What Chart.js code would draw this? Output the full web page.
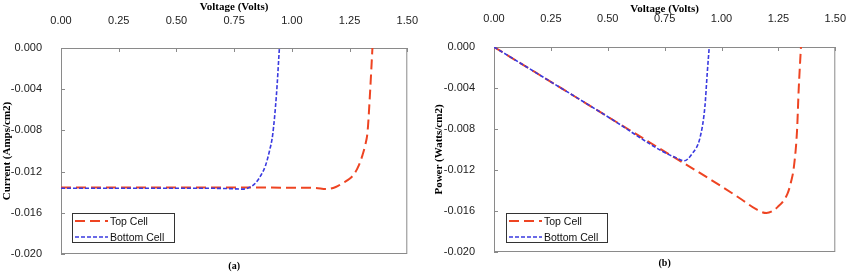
<!DOCTYPE html>
<html>
<head>
<meta charset="utf-8">
<script src="https://cdn.jsdelivr.net/npm/chart.js@4"></script>
<style>
  body { margin: 0; background: #fff; }
  #wrap { position: relative; width: 859px; height: 275px; }
  #ivChart { position: absolute; left: 0; top: 0; }
  #pvChart { position: absolute; left: 430px; top: 0; }
</style>
</head>
<body>
<div id="wrap">
  <canvas id="ivChart" width="430" height="275"></canvas>
  <canvas id="pvChart" width="429" height="275"></canvas>
</div>
<script>
// (a) current vs voltage
const topV = [0, 0.25, 0.5, 0.75, 1.0, 1.1, 1.15, 1.19, 1.221, 1.25, 1.271, 1.29, 1.306, 1.318, 1.328, 1.338, 1.349];
const topI = [-0.01355, -0.01355, -0.01355, -0.01355, -0.01356, -0.01358, -0.0137, -0.0135, -0.0131, -0.0127, -0.0122, -0.0114, -0.0104, -0.0094, -0.0081, -0.0046, 0];
const botV = [0, 0.25, 0.5, 0.65, 0.729, 0.786, 0.815, 0.843, 0.865, 0.886, 0.903, 0.917, 0.933, 0.946];
const botI = [-0.01362, -0.01362, -0.01362, -0.01362, -0.01365, -0.0137, -0.01355, -0.0131, -0.0124, -0.0114, -0.0100, -0.0084, -0.0046, 0];

// (b) power vs voltage
const topPV = [0, 0.25, 0.5, 0.75, 1.0, 1.09, 1.15, 1.197, 1.247, 1.29, 1.305, 1.318, 1.332, 1.339, 1.349];
const topP = [0, -0.0034, -0.0068, -0.0102, -0.0136, -0.0149, -0.0158, -0.0162, -0.0156, -0.0143, -0.0132, -0.0117, -0.0081, -0.0042, 0];
const botPV = [0, 0.25, 0.5, 0.75, 0.80, 0.835, 0.871, 0.906, 0.927, 0.937, 0.946];
const botP = [0, -0.0034, -0.0068, -0.0103, -0.0108, -0.0111, -0.0104, -0.0088, -0.0058, -0.0026, 0];

const seriesNames = ['Top Cell', 'Bottom Cell'];
const xTitle = 'Voltage (Volts)';

const RED = '#ee4422';
const BLUE = '#3a3ae0';
const sansFont = 'Liberation Sans, Arial, sans-serif';
const serifFont = 'Liberation Serif, Times New Roman, serif';

function pts(xs, ys) {
  return xs.map((x, i) => ({ x: x, y: ys[i] }));
}

// frame round the plot plus the small inside tick marks
const framePlugin = {
  id: 'frame',
  beforeDatasetsDraw(chart) {
    const { ctx, chartArea: a, scales } = chart;
    ctx.save();
    ctx.strokeStyle = '#8a8a8a';
    ctx.lineWidth = 1;
    ctx.strokeRect(a.left + 0.5, a.top + 0.5, a.right - a.left - 1, a.bottom - a.top - 1);
    ctx.beginPath();
    scales.x.ticks.forEach(t => {
      const px = Math.round(scales.x.getPixelForValue(t.value)) + 0.5;
      ctx.moveTo(px, a.top);
      ctx.lineTo(px, a.top + 4);
    });
    scales.y.ticks.forEach(t => {
      const py = Math.round(scales.y.getPixelForValue(t.value)) + 0.5;
      ctx.moveTo(a.left, py);
      ctx.lineTo(a.left + 4, py);
    });
    ctx.stroke();
    ctx.restore();
  },
  // boxed legend inside the plot, lower left
  afterDatasetsDraw(chart, args, opts) {
    const { ctx, chartArea: a } = chart;
    const bx = a.left + opts.dx, by = a.bottom - opts.dy;
    ctx.save();
    ctx.fillStyle = '#fff';
    ctx.fillRect(bx, by, opts.w, opts.h);
    ctx.strokeStyle = '#333';
    ctx.lineWidth = 1;
    ctx.strokeRect(bx + 0.5, by + 0.5, opts.w, opts.h);
    const sets = chart.data.datasets;
    sets.forEach((ds, i) => {
      const cy = by + 8 + i * 16;
      ctx.beginPath();
      ctx.setLineDash(ds.borderDash);
      ctx.strokeStyle = ds.borderColor;
      ctx.lineWidth = ds.borderWidth;
      ctx.moveTo(bx + 3, cy);
      ctx.lineTo(bx + 36, cy);
      ctx.stroke();
      ctx.setLineDash([]);
      ctx.fillStyle = '#111';
      ctx.font = '10.5px ' + sansFont;
      ctx.textBaseline = 'middle';
      ctx.fillText(ds.label, bx + 38, cy + 1);
    });
    ctx.restore();
  }
};

function makeChart(canvas, cfg) {
  return new Chart(canvas, {
    type: 'scatter',
    data: {
      datasets: [{
        label: seriesNames[0],
        data: cfg.top,
        showLine: true,
        borderColor: RED,
        borderWidth: 2,
        borderDash: [10, 5],
        pointRadius: 0,
        cubicInterpolationMode: 'monotone',
        order: 2
      }, {
        label: seriesNames[1],
        data: cfg.bottom,
        showLine: true,
        borderColor: BLUE,
        borderWidth: 1.6,
        borderDash: [4, 2],
        pointRadius: 0,
        cubicInterpolationMode: 'monotone',
        order: 1
      }]
    },
    options: {
      responsive: false,
      animation: false,
      layout: { padding: { left: 0, right: cfg.padRight, top: 0, bottom: 0 } },
      plugins: {
        legend: { display: false },
        tooltip: { enabled: false },
        title: {
          display: true,
          text: cfg.caption,
          position: 'bottom',
          fullSize: false,
          color: '#000',
          font: { family: serifFont, size: 10, weight: 'bold', lineHeight: 1.2 },
          padding: cfg.capPad
        },
        frame: cfg.legendBox
      },
      scales: {
        x: {
          type: 'linear',
          position: 'top',
          min: 0,
          max: 1.5,
          grid: { display: false },
          border: { display: false },
          ticks: {
            stepSize: 0.25,
            padding: cfg.xTickPad,
            color: '#222',
            font: { family: sansFont, size: 11 },
            callback: v => v.toFixed(2)
          },
          title: {
            display: true,
            text: xTitle,
            color: '#000',
            font: { family: serifFont, size: 11, weight: 'bold' },
            padding: { top: cfg.xTitlePad, bottom: 0 }
          },
          afterFit: s => { s.height = cfg.top0; }
        },
        y: {
          min: -0.02,
          max: 0,
          grid: { display: false },
          border: { display: false },
          ticks: {
            stepSize: 0.004,
            padding: 11,
            color: '#222',
            font: { family: sansFont, size: 11 },
            callback: v => Math.abs(v) < 1e-9 ? '0.000' : v.toFixed(3)
          },
          title: {
            display: true,
            text: cfg.yTitle,
            color: '#000',
            font: { family: serifFont, size: 11, weight: 'bold' },
            padding: { top: cfg.yTitlePad, bottom: 0 }
          },
          afterFit: s => { s.width = cfg.left0; }
        }
      }
    },
    plugins: [framePlugin]
  });
}

makeChart(document.getElementById('ivChart'), {
  top: pts(topV, topI),
  bottom: pts(botV, botI),
  caption: '(a)',
  yTitle: 'Current (Amps/cm2)',
  padRight: 18,
  capPad: { top: 6, bottom: 3 },
  xTickPad: 12,
  xTitlePad: 1,
  yTitlePad: 1,
  top0: 48,
  left0: 61,
  legendBox: { dx: 11, dy: 41, w: 102, h: 29 }
});

makeChart(document.getElementById('pvChart'), {
  top: pts(topPV, topP),
  bottom: pts(botPV, botP),
  caption: '(b)',
  yTitle: 'Power (Watts/cm2)',
  padRight: 13,
  capPad: { top: 5, bottom: 6 },
  xTickPad: 13,
  xTitlePad: 3,
  yTitlePad: 3,
  top0: 47,
  left0: 64,
  legendBox: { dx: 12, dy: 39, w: 101, h: 29 }
});
</script>
</body>
</html>
